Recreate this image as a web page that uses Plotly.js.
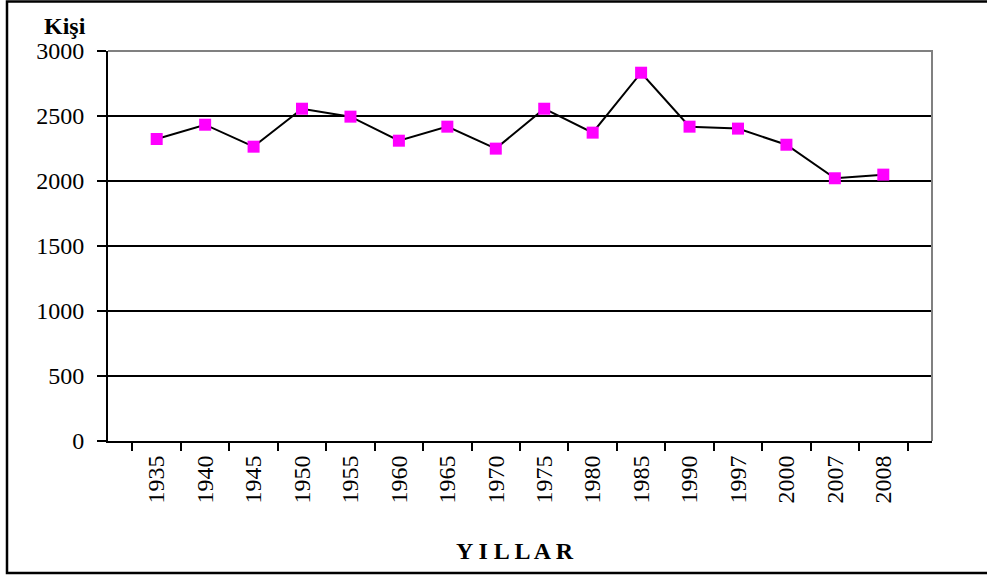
<!DOCTYPE html>
<html>
<head>
<meta charset="utf-8">
<script src="https://cdn.plot.ly/plotly-3.0.1.min.js"></script>
<style>
  html, body { margin: 0; padding: 0; background: #fff; }
  #chart { width: 987px; height: 577px; }
</style>
</head>
<body>
<div id="chart"></div>
<script>
const years = ['1935','1940','1945','1950','1955','1960','1965','1970','1975','1980','1985','1990','1997','2000','2007','2008'];
const people = [2323, 2433, 2264, 2556, 2495, 2310, 2418, 2249, 2556, 2372, 2833, 2418, 2403, 2279, 2021, 2049];
const yTicks = [0, 500, 1000, 1500, 2000, 2500, 3000];
const yTitle = 'Kişi';
const xTitle = 'Y I L L A R';

const FONT = 'Liberation Serif';

const trace = {
  type: 'scatter',
  mode: 'lines+markers',
  x: years,
  y: people,
  line: { color: '#000000', width: 2 },
  marker: { symbol: 'square', size: 12, color: '#FF00FF', line: { width: 0 } },
  cliponaxis: false,
  hoverinfo: 'x+y'
};

const layout = {
  width: 987,
  height: 577,
  margin: { l: 108, r: 55, t: 51, b: 136 },
  paper_bgcolor: '#ffffff',
  plot_bgcolor: '#ffffff',
  showlegend: false,
  font: { family: FONT, color: '#000', size: 24 },
  xaxis: {
    type: 'category',
    tickson: 'boundaries',
    ticks: 'outside',
    ticklen: 8,
    tickwidth: 2,
    tickcolor: '#000',
    tickangle: -90,
    showline: true,
    linecolor: '#000',
    linewidth: 2,
    showgrid: false,
    zeroline: false,
    tickfont: { family: FONT, size: 24, color: '#000' },
    ticklabelstandoff: 3
  },
  yaxis: {
    range: [0, 3000],
    tickvals: yTicks,
    ticks: 'outside',
    ticklen: 9,
    tickwidth: 2,
    tickcolor: '#000',
    showline: true,
    linecolor: '#000',
    linewidth: 2,
    showgrid: true,
    gridcolor: '#000',
    gridwidth: 1.5,
    zeroline: false,
    tickfont: { family: FONT, size: 24, color: '#000' },
    ticklabelstandoff: 8
  },
  shapes: [
    {
      type: 'path', xref: 'paper', yref: 'paper', layer: 'above',
      path: 'M 0,1 L 1,1 L 1,0',
      line: { color: '#808080', width: 2 }
    },
    {
      type: 'rect', xref: 'paper', yref: 'paper', layer: 'above',
      x0: (7 - 108) / 824, x1: (992 - 108) / 824,
      y0: (441 - 573) / 390, y1: (441 - 1.5) / 390,
      line: { color: '#000', width: 2.5 }
    }
  ],
  annotations: [
    {
      text: '<b>' + yTitle + '</b>', xref: 'paper', yref: 'paper',
      x: (65 - 108) / 824, y: (441 - 26) / 390,
      xanchor: 'center', yanchor: 'middle', showarrow: false,
      font: { family: FONT, size: 24, color: '#000' }
    },
    {
      text: '<b>' + xTitle + '</b>', xref: 'paper', yref: 'paper',
      x: (515 - 108) / 824, y: (441 - 551) / 390,
      xanchor: 'center', yanchor: 'middle', showarrow: false,
      font: { family: FONT, size: 24, color: '#000' }
    }
  ]
};

Plotly.newPlot('chart', [trace], layout, { displayModeBar: false, staticPlot: true });
</script>
</body>
</html>
